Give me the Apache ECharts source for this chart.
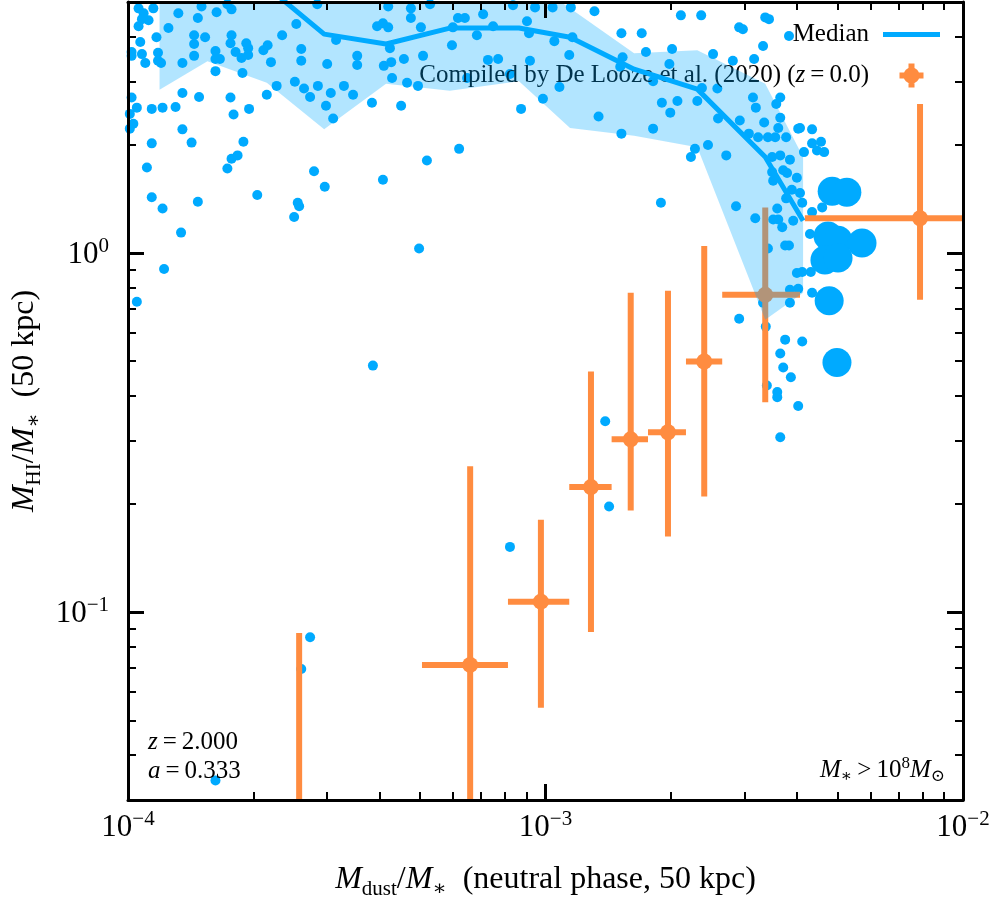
<!DOCTYPE html>
<html>
<head>
<meta charset="utf-8">
<script src="https://cdn.jsdelivr.net/npm/echarts@6/dist/echarts.min.js"></script>
<style>
  html, body { margin: 0; padding: 0; background: #fff; }
  #main { width: 996px; height: 900px; }
</style>
</head>
<body>
<div id="main"></div>
<script>
// simulated galaxies (small dots)
var dotX = [
  1.06e-4,1.09e-4,1.08e-4,1.12e-4,1.15e-4,1.06e-4,1.17e-4,1.07e-4,1.02e-4,1.02e-4,
  1.08e-4,1.10e-4,1.18e-4,1.18e-4,1.20e-4,1.25e-4,1.32e-4,1.47e-4,1.50e-4,1.63e-4,
  1.77e-4,1.73e-4,1.44e-4,1.44e-4,1.53e-4,1.44e-4,1.35e-4,1.62e-4,1.62e-4,1.66e-4,
  1.62e-4,1.77e-4,1.76e-4,1.81e-4,1.87e-4,1.92e-4,1.94e-4,1.94e-4,1.88e-4,1.35e-4,
  1.48e-4,1.76e-4,1.79e-4,1.95e-4,1.02e-4,1.05e-4,1.01e-4,1.03e-4,1.01e-4,1.14e-4,
  1.21e-4,1.30e-4,1.35e-4,1.14e-4,1.42e-4,1.89e-4,1.77e-4,1.83e-4,1.73e-4,1.11e-4,
  1.14e-4,1.21e-4,1.47e-4,1.34e-4,1.22e-4,1.05e-4,2.04e-4,2.11e-4,2.16e-4,2.20e-4,
  2.34e-4,2.27e-4,2.15e-4,2.53e-4,2.60e-4,2.60e-4,2.51e-4,2.64e-4,2.73e-4,2.85e-4,
  2.98e-4,3.10e-4,3.06e-4,3.00e-4,2.84e-4,3.15e-4,3.29e-4,3.46e-4,3.54e-4,3.54e-4,
  3.84e-4,3.95e-4,4.08e-4,4.20e-4,4.20e-4,4.24e-4,4.27e-4,4.10e-4,4.29e-4,4.58e-4,
  4.66e-4,4.95e-4,4.51e-4,4.76e-4,4.76e-4,5.03e-4,5.09e-4,6.00e-4,5.97e-4,6.17e-4,
  6.41e-4,6.49e-4,2.79e-4,2.96e-4,2.55e-4,2.57e-4,2.50e-4,4.08e-4,5.20e-4,6.21e-4,
  4.98e-4,3.86e-4,2.73e-4,2.60e-4,1.62e-4,5.29e-4,7.09e-4,8.36e-4,9.44e-4,1.04e-3,
  1.15e-3,1.31e-3,9.03e-4,9.13e-4,7.49e-4,6.85e-4,1.05e-3,1.16e-3,7.28e-4,7.70e-4,
  9.18e-4,1.14e-3,8.22e-4,1.08e-3,9.86e-4,8.74e-4,1.34e-3,1.52e-3,1.52e-3,1.70e-3,
  1.74e-3,1.51e-3,1.53e-3,1.81e-3,2.01e-3,1.98e-3,1.90e-3,1.99e-3,2.07e-3,1.81e-3,
  2.11e-3,2.36e-3,2.31e-3,2.37e-3,2.58e-3,2.59e-3,2.45e-3,2.28e-3,2.23e-3,2.71e-3,
  2.91e-3,2.97e-3,3.32e-3,2.52e-3,2.81e-3,3.16e-3,3.36e-3,3.43e-3,3.83e-3,3.14e-3,
  3.19e-3,2.92e-3,3.65e-3,3.57e-3,3.34e-3,3.65e-3,3.23e-3,3.41e-3,3.55e-3,3.61e-3,
  3.77e-3,3.49e-3,3.65e-3,3.85e-3,3.49e-3,3.51e-3,3.71e-3,3.79e-3,3.89e-3,4.03e-3,
  3.77e-3,3.59e-3,2.86e-3,3.18e-3,3.51e-3,3.61e-3,3.69e-3,3.92e-3,3.75e-3,3.83e-3,
  3.41e-3,4.00e-3,1.89e-3,4.07e-3,4.35e-3,4.35e-3,4.57e-3,4.47e-3,4.65e-3,4.16e-3,
  4.00e-3,4.07e-3,4.12e-3,4.35e-3,4.60e-3,4.30e-3,4.32e-3,4.12e-3,4.03e-3,3.85e-3,
  4.35e-3,3.85e-3,3.07e-3,2.91e-3,3.37e-3,3.32e-3,3.75e-3,4.12e-3,3.65e-3,3.71e-3,
  3.87e-3,3.39e-3,3.59e-3,3.59e-3,4.03e-3,3.65e-3,1.39e-3,1.42e-3,8.22e-4
];
var dotY = [
  4.80,4.65,4.48,4.45,4.80,4.28,3.99,3.87,3.63,3.54,
  3.58,3.38,3.61,3.43,3.38,4.23,4.65,4.51,4.86,4.68,
  4.77,4.93,4.04,3.82,3.99,3.54,3.38,3.65,3.47,3.47,
  3.21,4.04,3.84,3.63,3.49,3.84,3.72,3.56,3.17,2.79,
  2.72,2.71,2.43,2.52,2.71,2.54,2.44,2.29,2.22,2.52,
  2.54,2.55,2.21,2.02,2.03,2.04,1.83,1.87,1.72,1.73,
  1.43,1.33,1.39,1.14,0.903,0.732,1.45,3.67,3.79,3.40,
  4.04,2.92,2.76,4.34,3.70,3.43,3.00,2.87,2.72,2.92,
  2.57,2.37,2.79,3.36,4.93,3.92,2.92,2.76,3.54,3.34,
  2.62,4.28,4.36,4.25,4.86,3.72,3.40,3.32,3.07,3.47,
  2.98,2.92,2.57,4.80,4.51,4.25,3.54,4.25,3.79,4.51,
  4.51,3.07,1.69,1.53,1.38,1.35,1.26,1.60,1.81,1.95,
  1.03,0.486,0.0852,0.0695,0.0340,4.93,4.62,4.90,4.83,4.83,
  4.83,4.71,4.42,4.09,4.28,4.04,3.89,3.99,3.45,3.47,
  3.43,3.56,3.15,2.90,2.69,2.52,2.40,2.15,4.09,4.09,
  3.63,3.30,3.51,3.01,3.70,3.36,2.62,2.46,2.65,2.22,
  4.59,4.59,2.65,2.88,2.87,2.37,2.00,1.95,1.85,1.87,
  4.25,4.20,3.77,3.58,3.43,3.47,4.53,4.48,4.02,2.71,
  2.54,2.34,2.71,2.60,2.31,2.38,2.10,2.10,2.10,2.23,
  2.10,1.85,1.87,1.82,1.68,1.59,1.70,1.67,1.50,2.22,
  1.42,1.33,1.35,1.25,1.24,1.24,1.18,1.23,1.05,1.05,
  1.03,0.880,1.38,2.23,2.21,2.02,2.04,1.93,1.91,1.91,
  1.62,1.47,1.38,1.30,1.34,1.13,0.886,0.886,0.795,0.790,
  0.775,0.727,2.15,0.656,0.624,0.727,0.574,0.567,0.525,0.480,
  0.451,0.428,0.410,0.397,0.375,0.307,0.340,0.197,0.152
];

// big dots
var bigX = [4.86e-3, 5.27e-3, 4.75e-3, 5.02e-3, 5.73e-3, 4.67e-3, 5.02e-3, 4.78e-3, 4.99e-3];
var bigY = [1.485, 1.476, 1.115, 1.086, 1.066, 0.956, 0.969, 0.736, 0.496];

// binned median and 16-84 band
var binX = [1.19e-4, 1.55e-4, 2.15e-4, 2.95e-4, 4.15e-4, 5.90e-4, 8.64e-4, 1.145e-3, 1.63e-3, 2.31e-3, 3.36e-3, 4.14e-3];
var bandLo = [2.85, 3.42, 2.98, 2.21, 2.96, 2.83, 3.01, 2.23, 2.12, 1.97, 0.652, 0.775];
var bandHi = [6.1, 6.1, 6.1, 6.1, 6.1, 6.1, 6.0, 4.80, 3.60, 3.67, 2.96, 1.85];
var medianY = [5.9, 6.2, 5.52, 4.07, 3.82, 4.23, 4.23, 3.99, 3.25, 2.86, 1.85, 1.23];

// De Looze et al. (2020)
var obsX   = [2.57e-4, 6.60e-4, 9.75e-4, 1.285e-3, 1.60e-3, 1.965e-3, 2.40e-3, 3.36e-3, 7.89e-3];
var obsY   = [0.020, 0.0713, 0.107, 0.223, 0.303, 0.317, 0.499, 0.765, 1.25];
var obsXlo = [2.2e-4, 5.06e-4, 8.13e-4, 1.14e-3, 1.44e-3, 1.76e-3, 2.17e-3, 2.65e-3, 4.18e-3];
var obsXhi = [3.0e-4, 8.13e-4, 1.14e-3, 1.44e-3, 1.76e-3, 2.17e-3, 2.65e-3, 4.07e-3, 1.5e-2];
var obsYlo = [0.005, 0.012, 0.0542, 0.0881, 0.192, 0.1625, 0.210, 0.384, 0.741];
var obsYhi = [0.0875, 0.255, 0.181, 0.468, 0.775, 0.785, 1.046, 1.34, 2.60];

var xMajorTicks = [1e-4, 1e-3, 1e-2];
var xMinorTicks = [2e-4,3e-4,4e-4,5e-4,6e-4,7e-4,8e-4,9e-4,2e-3,3e-3,4e-3,5e-3,6e-3,7e-3,8e-3,9e-3];
var yMajorTicks = [0.1, 1];
var yMinorTicks = [0.04,0.05,0.06,0.07,0.08,0.09,0.2,0.3,0.4,0.5,0.6,0.7,0.8,0.9,2,3,4];

var FONT = '"Liberation Serif", "DejaVu Serif", serif';
var BLUE = '#00aaff';
var ORANGE = '#ff8c40';
var OBS_NAME = 'Compiled by De Looze et al. (2020) (z = 0.0)';

var myChart = echarts.init(document.getElementById('main'));

function powLabel(v) {
  var e = Math.log10(v), n = Math.round(e);
  if (Math.abs(e - n) > 1e-6) return '';
  return '{b|10}{s|' + (n < 0 ? '\u2212' + (-n) : n) + '}';
}
var labelRich = {
  b: { fontSize: 31, fontFamily: FONT, color: '#000', lineHeight: 34, verticalAlign: 'bottom' },
  s: { fontSize: 21, fontFamily: FONT, color: '#000', lineHeight: 21, verticalAlign: 'top' }
};
var nameRich = {
  i: { fontSize: 32, fontFamily: FONT, fontStyle: 'italic', color: '#000', lineHeight: 40, verticalAlign: 'middle' },
  n: { fontSize: 32, fontFamily: FONT, color: '#000', lineHeight: 40, verticalAlign: 'middle' },
  sub: { fontSize: 21, fontFamily: FONT, color: '#000', lineHeight: 19, verticalAlign: 'bottom' }
};

function axis(dim, pos, minor, withLabel, extra) {
  var a = {
    type: 'log', logBase: 10, position: pos, z: 10,
    min: dim === 'x' ? 1e-4 : 0.03,
    max: dim === 'x' ? 1e-2 : 5,
    axisLine: { show: !minor, onZero: false, lineStyle: { color: '#000', width: 3 } },
    axisTick: {
      show: true, inside: true,
      length: minor ? 8 : 16,
      customValues: dim === 'x' ? (minor ? xMinorTicks : xMajorTicks) : (minor ? yMinorTicks : yMajorTicks),
      lineStyle: { color: '#000', width: minor ? 2 : 3 }
    },
    axisLabel: { show: withLabel, formatter: powLabel, rich: labelRich, margin: dim === 'x' ? 9 : 19 },
    splitLine: { show: false },
    minorTick: { show: false }
  };
  for (var k in extra) a[k] = extra[k];
  return a;
}

function clipRect(params) {
  return { type: 'rect', shape: { x: params.coordSys.x, y: params.coordSys.y, width: params.coordSys.width, height: params.coordSys.height } };
}

option = {
  animation: false,
  backgroundColor: '#fff',
  grid: { left: 128, right: 33, top: 2, bottom: 100, outerBoundsMode: 'none', containLabel: false },
  xAxis: [
    axis('x', 'bottom', false, true, {
      name: '{i|M}{sub|dust}{n|/}{i|M}{sub|\u2217}{n|  (neutral phase, 50 kpc)}',
      nameLocation: 'middle', nameGap: 60,
      nameTextStyle: { rich: nameRich }
    }),
    axis('x', 'bottom', true, false),
    axis('x', 'top', false, false),
    axis('x', 'top', true, false)
  ],
  yAxis: [
    axis('y', 'left', false, true, {
      name: '{i|M}{sub|HI}{n|/}{i|M}{sub|\u2217}{n|  (50 kpc)}',
      nameLocation: 'middle', nameGap: 74, nameRotate: 90,
      nameTextStyle: { rich: nameRich }
    }),
    axis('y', 'left', true, false),
    axis('y', 'right', false, false),
    axis('y', 'right', true, false)
  ],
  legend: {
    orient: 'vertical', right: 51, top: 17, align: 'right',
    itemWidth: 57, itemHeight: 24, itemGap: 16,
    selectedMode: false,
    textStyle: {
      fontFamily: FONT, fontSize: 25, color: '#000', padding: [0, 9, 0, 0],
      rich: {
        n: { fontFamily: FONT, fontSize: 25, color: '#000' },
        i: { fontFamily: FONT, fontSize: 25, fontStyle: 'italic', color: '#000' }
      }
    },
    formatter: function (name) {
      if (name === 'Median') return '{n|Median}';
      return '{n|Compiled by De Looze et al. (2020) (}{i|z}{n|\u2009=\u20090.0)}';
    },
    data: [
      { name: 'Median', icon: 'path://M0,0h57v5h-57z', itemStyle: { color: BLUE, borderWidth: 0 } },
      { name: OBS_NAME,
        icon: 'path://M9,0h6v9h9v6h-9v9h-6v-9h-9v-6h9zM4,12a8,8 0 1,1 16,0a8,8 0 1,1 -16,0z',
        itemStyle: { color: ORANGE, borderWidth: 0 } }
    ]
  },
  graphic: [
    {
      type: 'text', left: 148, top: 730, z: 20,
      style: {
        text: '{i|z}{n|\u2009=\u20092.000}\n{i|a}{n|\u2009=\u20090.333}',
        rich: {
          i: { fontFamily: FONT, fontSize: 25, fontStyle: 'italic', fill: '#000', lineHeight: 29 },
          n: { fontFamily: FONT, fontSize: 25, fill: '#000', lineHeight: 29 }
        }
      }
    },
    {
      type: 'text', right: 51, top: 755, z: 20,
      style: {
        text: '{i|M}{sub|\u2217}{n|\u2009>\u200910}{sup|8}{i|M}{sub|\u2299}',
        rich: {
          i: { fontFamily: FONT, fontSize: 25, fontStyle: 'italic', fill: '#000', lineHeight: 30, verticalAlign: 'middle' },
          n: { fontFamily: FONT, fontSize: 25, fill: '#000', lineHeight: 30, verticalAlign: 'middle' },
          sup: { fontFamily: FONT, fontSize: 17, fill: '#000', lineHeight: 17, verticalAlign: 'top' },
          sub: { fontFamily: FONT, fontSize: 17, fill: '#000', lineHeight: 17, verticalAlign: 'bottom' }
        }
      }
    }
  ],
  series: [
    {
      name: 'galaxies', type: 'scatter', z: 2, silent: true,
      symbolSize: 10,
      itemStyle: { color: BLUE, opacity: 1 },
      data: dotX.map(function (x, i) { return [x, dotY[i]]; })
    },
    {
      name: 'massive', type: 'scatter', z: 2, silent: true,
      symbolSize: 29,
      itemStyle: { color: BLUE, opacity: 1 },
      data: bigX.map(function (x, i) { return [x, bigY[i]]; })
    },
    {
      name: OBS_NAME, type: 'custom', z: 3, silent: true,
      encode: { x: [0, 2, 3], y: [1, 4, 5] },
      data: obsX.map(function (x, i) { return [x, obsY[i], obsXlo[i], obsXhi[i], obsYlo[i], obsYhi[i]]; }),
      renderItem: function (params, api) {
        var c = api.coord([api.value(0), api.value(1)]);
        var l = api.coord([api.value(2), api.value(1)]);
        var r = api.coord([api.value(3), api.value(1)]);
        var b = api.coord([api.value(0), api.value(4)]);
        var t = api.coord([api.value(0), api.value(5)]);
        var st = { stroke: ORANGE, lineWidth: 6 };
        return {
          type: 'group', clipPath: clipRect(params),
          children: [
            { type: 'line', shape: { x1: l[0], y1: l[1], x2: r[0], y2: r[1] }, style: st },
            { type: 'line', shape: { x1: b[0], y1: b[1], x2: t[0], y2: t[1] }, style: st },
            { type: 'circle', shape: { cx: c[0], cy: c[1], r: 8 }, style: { fill: ORANGE } }
          ]
        };
      }
    },
    {
      name: 'band', type: 'custom', z: 4, silent: true,
      data: [[binX[0], bandLo[0]]],
      renderItem: function (params, api) {
        var pts = [];
        for (var i = 0; i < binX.length; i++) pts.push(api.coord([binX[i], bandHi[i]]));
        for (var j = binX.length - 1; j >= 0; j--) pts.push(api.coord([binX[j], bandLo[j]]));
        return {
          type: 'group', clipPath: clipRect(params),
          children: [{ type: 'polygon', shape: { points: pts }, style: { fill: 'rgba(0,170,255,0.3)' } }]
        };
      }
    },
    {
      name: 'Median', type: 'line', z: 5, silent: true,
      symbol: 'none', clip: true,
      lineStyle: { color: BLUE, width: 5 },
      itemStyle: { color: BLUE },
      data: binX.map(function (x, i) { return [x, medianY[i]]; })
    }
  ]
};

myChart.setOption(option);
</script>
</body>
</html>
